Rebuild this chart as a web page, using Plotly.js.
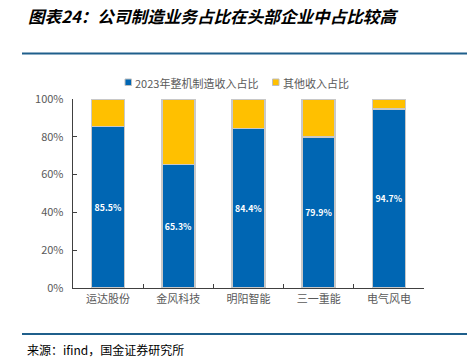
<!DOCTYPE html>
<html><head><meta charset="utf-8">
<script src="https://cdn.plot.ly/plotly-3.0.1.min.js"></script>
<style>body{margin:0;background:#fff}#c{width:467px;height:357px}</style>
</head><body><div id="c"></div>
<script>
const categories = ["运达股份","金风科技","明阳智能","三一重能","电气风电"];
const manuShare = [85.5, 65.3, 84.4, 79.9, 94.7];
const otherShare = [14.5, 34.7, 15.6, 20.1, 5.3];
const seriesNames = ["2023年整机制造收入占比","其他收入占比"];
const seriesColors = ["#0066b3","#ffc000"];
const yTickVals = [0,20,40,60,80,100];
const yTickText = ["0%","20%","40%","60%","80%","100%"];

const L=73, R=424, T=99, B=288;
const px = x => (x-L)/(R-L);
const py = y => (B-y)/(B-T);
const font = "'Noto Sans CJK SC', 'Noto Sans', sans-serif";

const traces = [
  {type:'bar', x:categories, y:manuShare, name:seriesNames[0],
   marker:{color:seriesColors[0], line:{color:'#c8c8c8', width:1.5}},
   text:manuShare.map(v=>v.toFixed(1)+'%'), textposition:'inside', insidetextanchor:'middle', textangle:0,
   textfont:{color:'#ffffff', size:11, family:font, weight:'bold'}, hoverinfo:'none'},
  {type:'bar', x:categories, y:otherShare, name:seriesNames[1],
   marker:{color:seriesColors[1], line:{color:'#c8c8c8', width:1.5}}, hoverinfo:'none', textposition:'none'}
];

// legend drawn as small squares + labels (positions in pixels)
const legendItems = [{sx:125, tx:133}, {sx:272.5, tx:280.5}];
const legendShapes = legendItems.map((it,i)=>({type:'rect', xref:'paper', yref:'paper',
  x0:px(it.sx), x1:px(it.sx+6.5), y0:py(85.5), y1:py(79),
  fillcolor:seriesColors[i], line:{color:'#bfbfbf', width:1}}));
const legendAnns = legendItems.map((it,i)=>({xref:'paper', yref:'paper', x:px(it.tx), y:py(82.5),
  xanchor:'left', yanchor:'middle', text:seriesNames[i], showarrow:false,
  font:{family:font, size:11, color:'#595959'}}));

const layout = {
  width:467, height:357, barmode:'stack', bargap:0.53,
  margin:{l:L, r:467-R, t:T, b:357-B, pad:0},
  paper_bgcolor:'#fff', plot_bgcolor:'#fff',
  font:{family:font, color:'#595959', size:11},
  showlegend:false,
  xaxis:{type:'category', showline:true, linecolor:'#404040', linewidth:1.3,
         ticks:'inside', tickson:'boundaries', ticklen:4, tickcolor:'#404040',
         tickfont:{size:11, color:'#595959'}, showgrid:false, zeroline:false, fixedrange:true},
  yaxis:{range:[0,100], tickvals:yTickVals, ticktext:yTickText, showline:true,
         linecolor:'#404040', linewidth:1.3, ticks:'inside', ticklen:4, tickcolor:'#404040',
         showgrid:false, zeroline:false, tickfont:{size:11, color:'#595959'}, ticklabelstandoff:6},
  shapes:[
    {type:'line', xref:'paper', yref:'paper', x0:px(22), x1:px(467), y0:py(53.5), y1:py(53.5),
     line:{color:'#1f5f8b', width:2}},
    {type:'line', xref:'paper', yref:'paper', x0:px(22), x1:px(467), y0:py(334), y1:py(334),
     line:{color:'#1f5f8b', width:2}}
  ].concat(legendShapes),
  annotations:[
    {xref:'paper', yref:'paper', x:px(26), y:py(16), xanchor:'left', yanchor:'middle',
     text:'图表24：公司制造业务占比在头部企业中占比较高', showarrow:false,
     font:{family:font, size:16.6, color:'#000', weight:'bold', style:'italic'}},
    {xref:'paper', yref:'paper', x:px(25), y:py(349), xanchor:'left', yanchor:'middle',
     text:'来源：ifind，国金证券研究所', showarrow:false,
     font:{family:font, size:12, color:'#000'}}
  ].concat(legendAnns)
};
Plotly.newPlot('c', traces, layout, {staticPlot:true, displayModeBar:false});
</script></body></html>
